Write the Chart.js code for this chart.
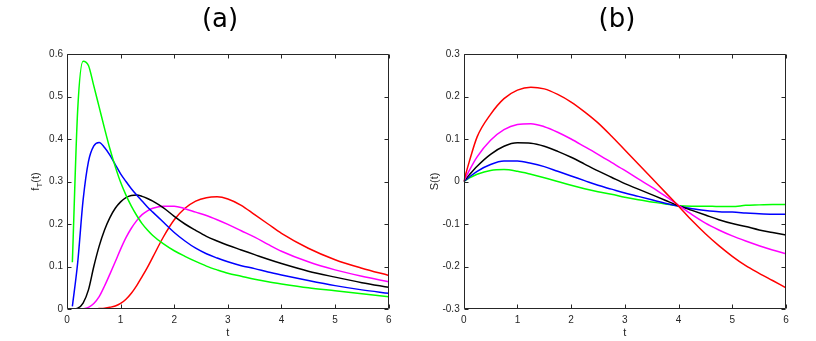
<!DOCTYPE html>
<html>
<head>
<meta charset="utf-8">
<script src="https://cdn.jsdelivr.net/npm/chart.js@4/dist/chart.umd.min.js"></script>
<style>
  html, body { margin: 0; padding: 0; background: #ffffff; }
  body { width: 816px; height: 341px; position: relative; overflow: hidden; }
  canvas { position: absolute; top: 0; }
  #ca { left: 0; }
  #cb { left: 418px; }
</style>
</head>
<body>
<canvas id="ca" width="440" height="341"></canvas>
<canvas id="cb" width="398" height="341"></canvas>
<script>
// ---------- data ----------
const T_A = [0.1,0.2,0.3,0.4,0.5,0.6,0.7,0.8,0.9,1.0,1.1,1.2,1.3,1.4,1.5,1.6,1.8,2.0,2.2,2.4,2.6,2.8,3.0,3.25,3.5,3.75,4.0,4.5,5.0,5.5,6.0];
const greenA   = [0.11,0.47,0.583,0.573,0.525,0.475,0.425,0.377,0.335,0.298,0.268,0.242,0.22,0.201,0.186,0.173,0.153,0.137,0.124,0.112,0.101,0.092,0.084,0.077,0.07,0.064,0.059,0.05,0.043,0.036,0.029];
const blueA    = [0.006,0.11,0.256,0.347,0.384,0.392,0.38,0.362,0.34,0.318,0.3,0.283,0.268,0.254,0.24,0.228,0.204,0.18,0.16,0.143,0.13,0.12,0.111,0.102,0.095,0.087,0.08,0.067,0.055,0.045,0.037];
const blackA   = [0,0.002,0.014,0.045,0.1,0.148,0.186,0.215,0.237,0.252,0.262,0.267,0.268,0.265,0.26,0.254,0.238,0.218,0.2,0.185,0.171,0.16,0.15,0.139,0.128,0.117,0.107,0.089,0.075,0.062,0.051];
const magentaA = [null,null,0,0.004,0.013,0.029,0.054,0.082,0.111,0.141,0.168,0.19,0.208,0.222,0.231,0.237,0.242,0.242,0.236,0.228,0.22,0.21,0.199,0.184,0.169,0.152,0.136,0.111,0.092,0.077,0.064];
const redA     = [0,0,0,0,0,0.001,0.002,0.004,0.007,0.013,0.023,0.037,0.055,0.076,0.098,0.122,0.17,0.21,0.237,0.254,0.262,0.264,0.259,0.244,0.222,0.2,0.178,0.143,0.116,0.096,0.079];

const T_B = [0,0.1,0.25,0.5,0.75,1,1.25,1.5,1.75,2,2.25,2.5,2.75,3,3.25,3.5,3.75,4,4.25,4.5,4.75,5,5.25,5.5,5.75,6];
const redB     = [0,0.045,0.105,0.158,0.195,0.215,0.222,0.218,0.205,0.187,0.164,0.138,0.107,0.074,0.041,0.008,-0.025,-0.058,-0.092,-0.123,-0.151,-0.176,-0.198,-0.216,-0.233,-0.25];
const magentaB = [0,0.025,0.058,0.097,0.122,0.134,0.136,0.129,0.116,0.1,0.082,0.064,0.045,0.026,0.006,-0.013,-0.034,-0.056,-0.078,-0.098,-0.114,-0.128,-0.14,-0.151,-0.161,-0.17];
const blackB   = [0,0.015,0.036,0.064,0.083,0.091,0.09,0.083,0.071,0.057,0.041,0.025,0.01,-0.005,-0.018,-0.031,-0.044,-0.057,-0.068,-0.079,-0.09,-0.099,-0.106,-0.114,-0.12,-0.126];
const blueB    = [0,0.01,0.024,0.04,0.048,0.048,0.043,0.035,0.024,0.013,0.002,-0.009,-0.018,-0.027,-0.035,-0.043,-0.051,-0.058,-0.064,-0.068,-0.071,-0.072,-0.074,-0.076,-0.077,-0.077];
const greenB   = [0,0.008,0.017,0.026,0.028,0.024,0.017,0.009,0,-0.009,-0.017,-0.024,-0.03,-0.037,-0.043,-0.048,-0.053,-0.057,-0.058,-0.058,-0.059,-0.059,-0.056,-0.055,-0.054,-0.054];

const xTicks  = [0,1,2,3,4,5,6];
const yTicksA = [0,0.1,0.2,0.3,0.4,0.5,0.6];
const yTicksB = [-0.3,-0.2,-0.1,0,0.1,0.2,0.3];
const tickLabelsA = ['0','0.1','0.2','0.3','0.4','0.5','0.6'];
const tickLabelsB = ['-0.3','-0.2','-0.1','0','0.1','0.2','0.3'];
const xTickLabels = ['0','1','2','3','4','5','6'];

const titleA = '(a)', titleB = '(b)';
const xTitle = 't';
const yTitleB = 'S(t)';

// ---------- helpers ----------
const AX = '#262626';
const TICK_FONT = { family: '"Liberation Sans", Arial, sans-serif', size: 10 };

function pts(xs, ys) { return xs.map((x, i) => ({ x: x, y: ys[i] })); }
function ds(label, xs, ys, color) {
  return { label, data: pts(xs, ys), borderColor: color, backgroundColor: color,
           borderWidth: 1.5, pointRadius: 0, fill: false, cubicInterpolationMode: 'monotone', spanGaps: false };
}

const boxPlugin = {
  id: 'matlabBox',
  afterDatasetsDraw(chart) {
    const { ctx, chartArea: a, scales } = chart;
    const L = Math.round(a.left) + 0.5, R = Math.round(a.right) - 0.5;
    const T = Math.round(a.top) + 0.5, B = Math.round(a.bottom) - 0.5;
    ctx.save();
    ctx.strokeStyle = AX; ctx.lineWidth = 1;
    ctx.beginPath();
    ctx.rect(L, T, R - L, B - T);
    const len = 4;
    scales.x.ticks.forEach(t => {
      const p = Math.round(scales.x.getPixelForValue(t.value)) + 0.5;
      ctx.moveTo(p, B); ctx.lineTo(p, B - len);
      ctx.moveTo(p, T); ctx.lineTo(p, T + len);
    });
    scales.y.ticks.forEach(t => {
      const p = Math.round(scales.y.getPixelForValue(t.value)) + 0.5;
      ctx.moveTo(L, p); ctx.lineTo(L + len, p);
      ctx.moveTo(R, p); ctx.lineTo(R - len, p);
    });
    ctx.stroke();
    ctx.restore();
  }
};

const fTitlePlugin = {
  id: 'fTitle',
  afterDraw(chart) {
    if (!chart.options.plugins.fTitle || !chart.options.plugins.fTitle.on) return;
    const { ctx, chartArea: a } = chart;
    const main = '11px "Liberation Sans", Arial, sans-serif';
    const sub = '8px "Liberation Sans", Arial, sans-serif';
    ctx.save();
    ctx.fillStyle = AX;
    ctx.font = main; const w1 = ctx.measureText('f').width, w3 = ctx.measureText('(t)').width;
    ctx.font = sub; const w2 = ctx.measureText('T').width;
    const total = w1 + w2 + w3;
    ctx.translate(a.left - 31, (a.top + a.bottom) / 2);
    ctx.rotate(-Math.PI / 2);
    ctx.textBaseline = 'middle';
    ctx.textAlign = 'left';
    let x = -total / 2;
    ctx.font = main; ctx.fillText('f', x, 0); x += w1;
    ctx.font = sub; ctx.fillText('T', x, 3.5); x += w2;
    ctx.font = main; ctx.fillText('(t)', x, 0);
    ctx.restore();
  }
};

function makeChart(id, cfg) {
  return new Chart(document.getElementById(id), {
    type: 'line',
    data: { datasets: cfg.datasets },
    options: {
      responsive: false, animation: false, devicePixelRatio: 1,
      layout: { padding: 0 },
      plugins: {
        legend: { display: false }, tooltip: { enabled: false },
        title: { display: true, text: cfg.title, color: '#000',
                 font: { family: '"DejaVu Sans", sans-serif', size: 26, weight: 'normal', lineHeight: 1.2 },
                 padding: { top: 5, bottom: 17.8 } },
        fTitle: { on: cfg.fTitle }
      },
      scales: {
        x: {
          type: 'linear', min: 0, max: 6,
          grid: { display: false, drawTicks: false }, border: { display: false },
          afterBuildTicks: s => { s.ticks = xTicks.map(v => ({ value: v })); },
          afterFit: s => { s.height = 32; },
          ticks: { color: AX, font: TICK_FONT, padding: 5, maxRotation: 0,
                   callback: (v) => xTickLabels[xTicks.indexOf(v)] },
          title: { display: true, text: xTitle, color: AX,
                   font: { family: '"Liberation Sans", Arial, sans-serif', size: 11, lineHeight: 1.2 },
                   padding: { top: 0, bottom: 1.4 } }
        },
        y: {
          type: 'linear', position: 'left', min: cfg.yMin, max: cfg.yMax,
          grid: { display: false, drawTicks: false }, border: { display: false },
          afterBuildTicks: s => { s.ticks = cfg.yTicks.map(v => ({ value: v })); },
          afterFit: s => { s.width = cfg.yWidth; },
          ticks: { color: AX, font: TICK_FONT, padding: 4,
                   callback: (v) => cfg.yLabels[cfg.yTicks.findIndex(t => Math.abs(t - v) < 1e-9)] },
          title: { display: cfg.yTitle !== null, text: cfg.yTitle || '', color: AX,
                   font: { family: '"Liberation Sans", Arial, sans-serif', size: 11, lineHeight: 1.2 },
                   padding: { top: 10.4, bottom: 0 } }
        },
        yr: {
          type: 'linear', position: 'right', min: 0, max: 1, display: true,
          grid: { display: false, drawTicks: false }, border: { display: false },
          ticks: { display: false },
          afterFit: s => { s.width = cfg.padRight; }
        }
      }
    },
    plugins: [boxPlugin, fTitlePlugin]
  });
}

makeChart('ca', {
  title: titleA, padRight: 51.3, yWidth: 67, yMin: 0, yMax: 0.6,
  yTicks: yTicksA, yLabels: tickLabelsA, yTitle: null, fTitle: true,
  datasets: [
    ds('green', T_A, greenA, '#00ff00'),
    ds('blue', T_A, blueA, '#0000ff'),
    ds('black', T_A, blackA, '#000000'),
    ds('magenta', T_A, magentaA, '#ff00ff'),
    ds('red', T_A, redA, '#ff0000')
  ]
});

makeChart('cb', {
  title: titleB, padRight: 30, yWidth: 45.7, yMin: -0.3, yMax: 0.3,
  yTicks: yTicksB, yLabels: tickLabelsB, yTitle: yTitleB, fTitle: false,
  datasets: [
    ds('red', T_B, redB, '#ff0000'),
    ds('magenta', T_B, magentaB, '#ff00ff'),
    ds('black', T_B, blackB, '#000000'),
    ds('blue', T_B, blueB, '#0000ff'),
    ds('green', T_B, greenB, '#00ff00')
  ]
});
</script>
</body>
</html>
